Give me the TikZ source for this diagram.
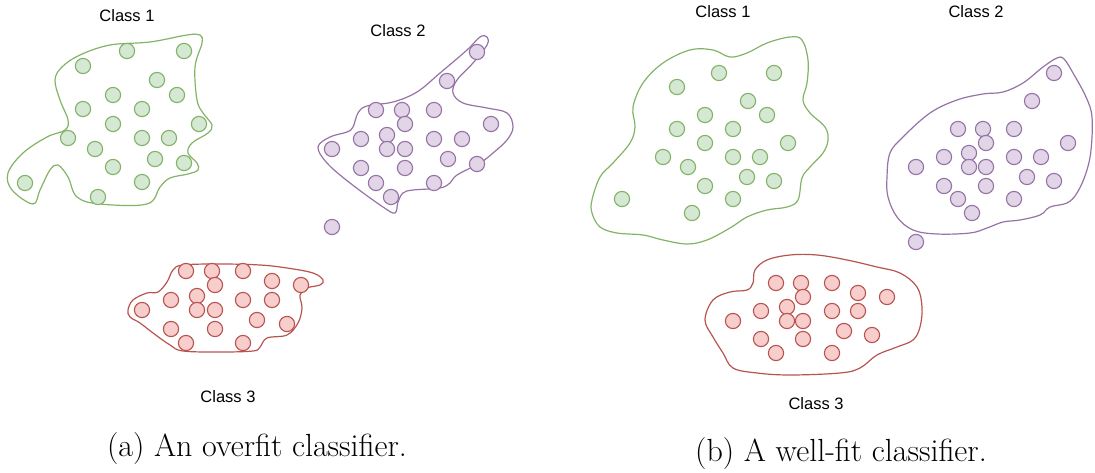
\documentclass[tikz,border=0pt]{standalone}
\usepackage{fontspec}
\newfontfamily\labelfont{Liberation Sans}
\definecolor{gfill}{HTML}{D5E8D4}
\definecolor{gline}{HTML}{82B366}
\definecolor{pfill}{HTML}{E1D5E7}
\definecolor{pline}{HTML}{9673A6}
\definecolor{rfill}{HTML}{F8CECC}
\definecolor{rline}{HTML}{B85450}
\tikzset{
  dot/.style={circle, minimum size=15.2pt, inner sep=0pt, line width=1.1pt},
  gdot/.style={dot, draw=gline, fill=gfill},
  pdot/.style={dot, draw=pline, fill=pfill},
  rdot/.style={dot, draw=rline, fill=rfill},
  classlabel/.style={font=\labelfont\fontsize{16.5}{19}\selectfont, inner sep=0pt},
  caption/.style={font=\fontsize{32}{38}\selectfont, inner sep=0pt, anchor=base}
}
\begin{document}
\begin{tikzpicture}[x=1pt, y=-1pt]
\useasboundingbox (0,0) rectangle (1095,473);

% ---------- (a) overfit classifier ----------
\draw[gline, line width=1.2pt] plot[smooth cycle, tension=0.6] coordinates {
  (33,204) (12,190) (8,173) (23,153) (47,137) (65,130) (68,120) (60,100) (55,80)
  (62,67) (80,55) (110,45) (150,42) (187,35) (200,35) (202,43) (195,67)
  (197,100) (203,113) (212,125) (208,133) (192,143) (188,153) (197,163)
  (198,170) (188,174) (170,178) (160,187) (147,204) (100,204) (77,197)
  (68,177) (58,165) (50,170) (40,190)};
\draw[pline, line width=1.2pt] plot[smooth cycle, tension=0.6] coordinates {
  (318,147) (330,137) (347,132) (353,127) (358,113) (367,106) (393,102)
  (417,92) (440,73) (467,50) (480,37) (487,37) (487,45) (473,63) (457,80)
  (453,93) (463,103) (487,108) (507,113) (513,127) (507,140) (493,153)
  (480,163) (457,175) (450,183) (440,188) (413,190) (403,193) (398,202)
  (395,213) (383,207) (350,183) (327,163)};
\draw[rline, line width=1.2pt] plot[smooth cycle, tension=0.6] coordinates {
  (128,310) (133,300) (147,293) (158,292) (167,282) (173,270) (183,265)
  (220,264) (260,265) (287,268) (313,273) (323,280) (320,285) (307,288)
  (300,295) (302,308) (298,323) (287,335) (267,338) (260,347) (253,351)
  (220,352) (183,351) (170,345) (153,333) (140,323) (130,317)};

\foreach \x/\y [count=\i] in {127/51, 184/51, 83/66, 157/80, 113/95, 177/95,
  83/109, 142/109, 113/124, 199/124, 68/138, 142/138, 169/138, 95/149,
  155/159, 113/167, 184/163, 25/183, 142/182, 98/197}
  \node[gdot] (ag\i) at (\x,\y) {};
\foreach \x/\y [count=\i] in {477/52, 447/81, 376/110, 402/110, 434/110,
  405/124, 491/124, 361/139, 387/135, 434/139, 462/139, 332/149, 387/149,
  405/149, 361/168, 405/168, 448/159, 477/164, 376/183, 434/183, 391/197,
  332/227}
  \node[pdot] (ap\i) at (\x,\y) {};
\foreach \x/\y [count=\i] in {186/271, 212/271, 243/271, 272/281, 215/285,
  301/285, 171/300, 197/296, 243/300, 272/300, 142/310, 197/310, 215/310,
  257/320, 287/324, 171/329, 215/329, 186/343, 243/343}
  \node[rdot] (ar\i) at (\x,\y) {};

\node[classlabel] (alab1) at (127,16) {Class 1};
\node[classlabel] (alab2) at (398,31) {Class 2};
\node[classlabel] (alab3) at (228,397) {Class 3};
\node[caption] (capa) at (257,456) {(a) An overfit classifier.};

% ---------- (b) well-fit classifier ----------
\draw[gline, line width=1.2pt] plot[smooth cycle, tension=0.6] coordinates {
  (592,200) (600,177) (613,163) (630,143) (635,127) (633,107) (643,83)
  (663,63) (690,50) (713,50) (730,57) (747,53) (767,43) (790,37) (802,40)
  (808,60) (807,83) (803,100) (810,113) (825,127) (828,140) (823,153)
  (810,167) (802,178) (798,200) (787,207) (767,210) (747,217) (730,228)
  (707,240) (687,244) (663,240) (643,235) (617,233) (600,227) (592,213)};
\draw[pline, line width=1.2pt] plot[smooth cycle, tension=0.6] coordinates {
  (887,177) (890,153) (903,137) (930,113) (957,100) (983,94) (1003,92)
  (1023,83) (1043,67) (1057,58) (1064,59) (1073,73) (1086,97) (1092,117)
  (1091,150) (1086,173) (1077,193) (1067,203) (1050,207) (1040,215)
  (1020,220) (1003,222) (987,228) (970,233) (937,234) (913,230) (897,217)
  (888,197)};
\draw[rline, line width=1.2pt] plot[smooth cycle, tension=0.6] coordinates {
  (705,320) (713,300) (730,292) (747,290) (753,283) (755,270) (767,260)
  (790,255) (817,255) (847,260) (877,267) (900,273) (917,287) (922,307)
  (920,327) (913,340) (897,347) (877,355) (860,368) (840,373) (790,375)
  (757,373) (733,368) (723,353) (713,337)};

\foreach \x/\y [count=\i] in {719/73, 774/73, 677/87, 748/101, 705/115,
  767/115, 677/129, 733/129, 705/143, 788/143, 663/157, 733/157, 760/157,
  688/167, 747/177, 705/186, 774/181, 622/199, 733/199, 692/213}
  \node[gdot] (bg\i) at (\x,\y) {};
\foreach \x/\y [count=\i] in {1054/73, 1032/101, 958/129, 983/129, 1014/129,
  986/143, 1068/143, 944/157, 969/153, 1014/157, 1041/157, 916/167, 969/167,
  986/167, 1027/177, 1054/181, 944/186, 986/186, 958/199, 1014/199, 972/213,
  916/242}
  \node[pdot] (bp\i) at (\x,\y) {};
\foreach \x/\y [count=\i] in {776/283, 801/283, 832/283, 858/293, 803/297,
  887/297, 761/311, 787/307, 832/311, 858/311, 733/321, 787/321, 803/321,
  844/331, 872/335, 761/339, 803/339, 776/353, 832/353}
  \node[rdot] (br\i) at (\x,\y) {};

\node[classlabel] (blab1) at (723,12) {Class 1};
\node[classlabel] (blab2) at (976,12) {Class 2};
\node[classlabel] (blab3) at (816,404) {Class 3};
\node[caption] (capb) at (841,461) {(b) A well-fit classifier.};
\end{tikzpicture}
\end{document}
